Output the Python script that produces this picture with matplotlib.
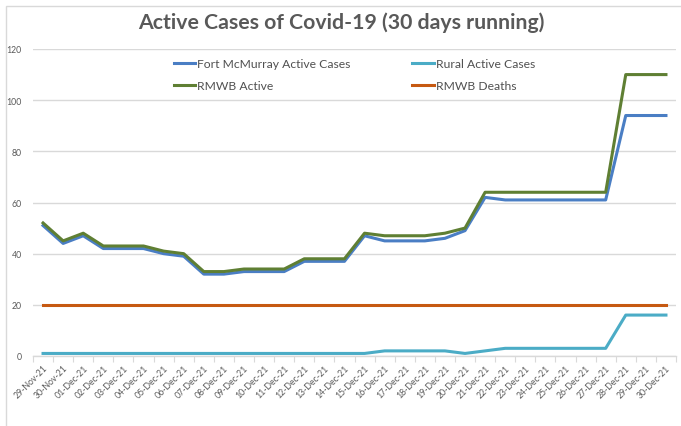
import matplotlib
matplotlib.use("Agg")
import matplotlib.pyplot as plt
from matplotlib.patches import Rectangle

# ---------- data ----------
DATES = ["29-Nov-21", "30-Nov-21"] + [f"{d:02d}-Dec-21" for d in range(1, 31)]
FORT_MCMURRAY = [51, 44, 47, 42, 42, 42, 40, 39, 32, 32, 33, 33, 33, 37, 37, 37,
                 47, 45, 45, 45, 46, 49, 62, 61, 61, 61, 61, 61, 61, 94, 94, 94]
RURAL = [1, 1, 1, 1, 1, 1, 1, 1, 1, 1, 1, 1, 1, 1, 1, 1,
         1, 2, 2, 2, 2, 1, 2, 3, 3, 3, 3, 3, 3, 16, 16, 16]
RMWB_ACTIVE = [52, 45, 48, 43, 43, 43, 41, 40, 33, 33, 34, 34, 34, 38, 38, 38,
               48, 47, 47, 47, 48, 50, 64, 64, 64, 64, 64, 64, 64, 110, 110, 110]
RMWB_DEATHS = [20] * 32

TEXT = "#595959"
GRID = "#D9D9D9"

plt.rcParams["font.family"] = ["Lato", "DejaVu Sans"]

fig = plt.figure(figsize=(6.81, 4.27), dpi=100)
fig.patches.append(Rectangle((6 / 681, -0.1), 1.2, 1.1 - 7 / 427,
                             transform=fig.transFigure, fill=False,
                             edgecolor=GRID, linewidth=1.0))
ax = fig.add_axes([33 / 681, 1 - 357 / 427, 643 / 681, 307 / 427])

x = list(range(len(DATES)))
l_fm, = ax.plot(x, FORT_MCMURRAY, color="#4A7EC4", lw=2.2, label="Fort McMurray Active Cases")
l_ru, = ax.plot(x, RURAL, color="#4BACC6", lw=2.2, label="Rural Active Cases")
l_rm, = ax.plot(x, RMWB_ACTIVE, color="#5F7F33", lw=2.2, label="RMWB Active")
l_de, = ax.plot(x, RMWB_DEATHS, color="#C65911", lw=2.2, label="RMWB Deaths")

ax.set_xlim(-0.5, len(DATES) - 0.5)
ax.set_ylim(0, 120)
ax.set_yticks(range(0, 121, 20))
ax.grid(axis="y", color=GRID, lw=1.0)
ax.set_axisbelow(True)
for side in ["left", "right", "top"]:
    ax.spines[side].set_visible(False)
ax.spines["bottom"].set_color(GRID)
ax.spines["bottom"].set_linewidth(1.0)

ax.set_xticks([i - 0.5 for i in range(len(DATES) + 1)])
ax.set_xticklabels([])
ax.set_xticks(x, minor=True)
ax.set_xticklabels(DATES, minor=True, rotation=45, ha="right",
                   rotation_mode="anchor", fontsize=6.3, color=TEXT)
ax.tick_params(axis="x", which="major", length=4, color=GRID, direction="out")
ax.tick_params(axis="x", which="minor", length=0, pad=5)
ax.tick_params(axis="y", length=0, pad=8, labelsize=6.3, labelcolor=TEXT)

fig.text(341 / 681, 1 - 23 / 427, "Active Cases of Covid-19 (30 days running)",
         ha="center", va="center", fontsize=15.3, fontweight="bold", color=TEXT)

leg = ax.legend([l_fm, l_rm, l_ru, l_de],
                ["Fort McMurray Active Cases", "RMWB Active", "Rural Active Cases", "RMWB Deaths"],
                ncol=2, loc="upper left", bbox_to_anchor=(163 / 681, 1 - 48 / 427),
                bbox_transform=fig.transFigure, frameon=False, fontsize=8.7,
                handlelength=1.75, handletextpad=0.2, columnspacing=5.1,
                labelspacing=0.9)
for t in leg.get_texts():
    t.set_color("#505050")

fig.savefig("out.png", dpi=100)
